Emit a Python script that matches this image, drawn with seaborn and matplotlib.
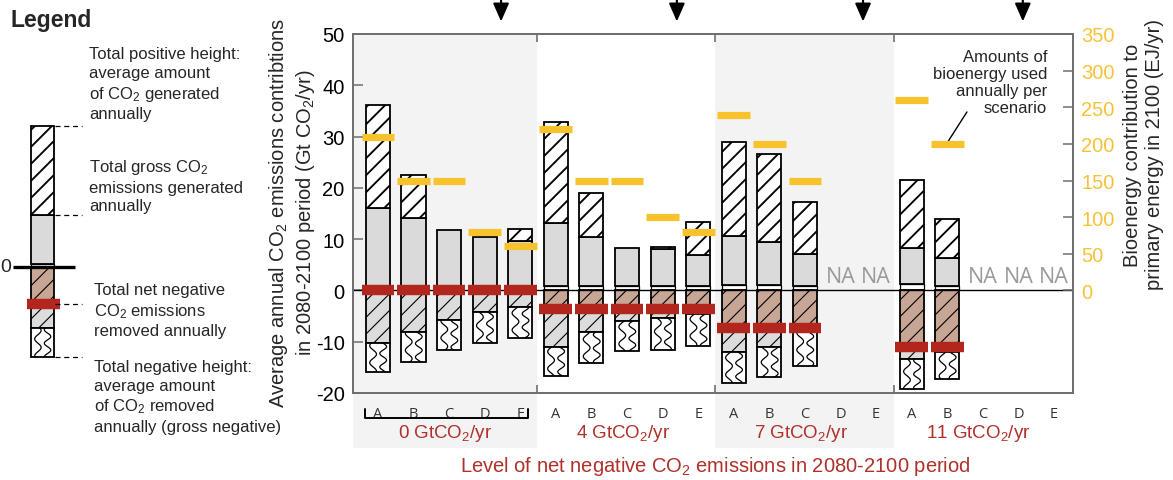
import numpy as np
import pandas as pd
import matplotlib
matplotlib.use("Agg")
import matplotlib.pyplot as plt
import seaborn as sns

# ---------------- data ----------------
levels = ["0", "4", "7", "11"]
scenarios = ["A", "B", "C", "D", "E"]
net_level = [0.0, -3.6, -7.3, -11.0]          # net negative emissions per level (Gt CO2/yr)

bar_level = [0, 0, 0, 0, 0, 1, 1, 1, 1, 1, 2, 2, 2, 3, 3]
bar_scen = [0, 1, 2, 3, 4, 0, 1, 2, 3, 4, 0, 1, 2, 0, 1]
total_pos = [36.2, 22.5, 11.8, 10.4, 12.0, 32.8, 19.0, 8.3, 8.4, 13.4, 28.9, 26.6, 17.2, 21.5, 13.9]
gross_pos = [16.0, 14.1, 11.8, 10.4, 9.6, 13.1, 10.5, 8.3, 8.1, 6.9, 10.6, 9.5, 7.1, 8.3, 6.3]
small_pos = [0, 0, 0, 0, 0, 0.8, 0.8, 0.8, 0.8, 0.8, 1.1, 1.1, 0.8, 1.3, 0.8]
hatched_neg = [-10.2, -8.1, -5.75, -4.25, -3.3, -11.1, -8.15, -5.9, -5.4, -4.6,
               -12.0, -10.95, -8.1, -13.35, -12.05]
total_neg = [-16.0, -14.0, -11.7, -10.3, -9.3, -16.6, -14.2, -11.85, -11.6, -10.8,
             -18.0, -16.9, -14.65, -19.2, -17.25]
bioenergy = [210, 150, 150, 80, 60, 220, 150, 150, 100, 80, 240, 200, 150, 260, 200]

# schematic legend bar values
leg_total_pos, leg_gross_pos, leg_small = 27.4, 10.1, 0.5
leg_net, leg_hatched, leg_total_neg = -7.2, -11.9, -17.6

left_ticks = list(range(-20, 51, 10))
right_ticks = list(range(0, 351, 50))
arrow_x = [3.46, 8.40, 13.63, 18.12]
group_bounds = [4.48, 9.48, 14.5]

# ---------------- style ----------------
sns.set_theme(style="white")
plt.rcParams["font.family"] = ["Liberation Sans", "DejaVu Sans"]
plt.rcParams["mathtext.fontset"] = "custom"
plt.rcParams["mathtext.rm"] = "Liberation Sans"
plt.rcParams["mathtext.it"] = "Liberation Sans:italic"
plt.rcParams["mathtext.bf"] = "Liberation Sans:bold"
plt.rcParams["mathtext.default"] = "regular"
plt.rcParams["hatch.linewidth"] = 0.8

GRAY = "#dadada"
BROWN = "#c7a696"
HGRAY = "#dcdcdc"
RED = "#b3261e"
YELLOW = "#f8c22c"
TXT_RED = "#b0302a"
SHADE = "#f3f3f3"
FRAME = "#6f6f6f"
BAR_W = 0.675

W, H = 1173, 481
XLIM = (-0.7, 19.53)
YLIM = (-20, 50)
fig = plt.figure(figsize=(W / 100, H / 100), dpi=100)
ax = fig.add_axes([353 / W, 1 - 394 / H, 720 / W, 359 / H])
SX = 720 / (XLIM[1] - XLIM[0])      # pixels per x unit
SY = 359 / (YLIM[1] - YLIM[0])      # pixels per y unit

df = pd.DataFrame({
    "slot": [5 * l + s for l, s in zip(bar_level, bar_scen)],
    "total_pos": total_pos, "gross_pos": gross_pos, "small_pos": small_pos,
    "net": [net_level[l] for l in bar_level],
    "hatched_neg": hatched_neg, "total_neg": total_neg, "bio": bioenergy,
}).sort_values("slot")
zeros = np.zeros(len(df))


def seg(bottoms, tops, face, hatch=None, elw=1.3, z=3):
    bottoms = np.asarray(bottoms, float)
    tops = np.asarray(tops, float)
    keep = (tops - bottoms) > 0.05
    d = pd.DataFrame({"slot": df["slot"].values[keep], "h": (tops - bottoms)[keep]})
    sns.barplot(data=d, x="slot", y="h", native_scale=True, width=BAR_W,
                errorbar=None, color=face, saturation=1, bottom=bottoms[keep],
                facecolor=face, edgecolor="black", linewidth=elw, hatch=hatch,
                zorder=z, ax=ax)
    return list(ax.containers[-1])


def diag(axis, patches, sx, sy, step=17.0, lw=1.35):
    """Thick 45-degree hatch lines, clipped to each bar."""
    for p in patches:
        x0, y0 = p.get_x() * sx, p.get_y() * sy
        x1, y1 = x0 + p.get_width() * sx, y0 + p.get_height() * sy
        c = y0 - x1 + 6
        while c < y1 - x0:
            xs = np.array([x0, x1])
            ys = xs + c
            ln, = axis.plot(xs / sx, ys / sy, color="black", lw=lw,
                            zorder=p.get_zorder() + 0.1, solid_capstyle="butt")
            ln.set_clip_path(p)
            c += step


def wavy(axis, patches, sy):
    for i, p in enumerate(patches):
        x0, y0 = p.get_x(), p.get_y()
        w, h = p.get_width(), p.get_height()
        yy = np.linspace(y0, y0 + h, 90)
        for j, (off, fr) in enumerate(((-0.2, 1.0), (0.22, 1.25))):
            ph = 1.7 * i + 2.4 * j
            k = 2 * np.pi / (17.0 / sy) * fr
            xx = x0 + w * (0.5 + off) + w * 0.14 * np.sin(yy * k + ph)
            ln, = axis.plot(xx, yy, color="black", lw=0.9, zorder=p.get_zorder() + 0.1)
            ln.set_clip_path(p)


# positive parts
seg(df["small_pos"], df["gross_pos"], GRAY)
seg(zeros, df["small_pos"], "white", hatch="..", elw=0.9)
pp = seg(df["gross_pos"], df["total_pos"], "white")
diag(ax, pp, SX, SY)
# negative parts
seg(df["net"], zeros, BROWN, hatch="//")
seg(df["hatched_neg"], df["net"], HGRAY, hatch="//")
wp = seg(df["total_neg"], df["hatched_neg"], "white")
wavy(ax, wp, SY)

ax.axhline(0, color="black", lw=1.0, zorder=4)
ax.hlines(df["net"], df["slot"] - 0.46, df["slot"] + 0.46, color=RED, lw=7.5,
          capstyle="butt", zorder=6)

# shading of alternate groups (extends under the labels)
for x0, x1 in [(XLIM[0], group_bounds[0]), (group_bounds[1], group_bounds[2])]:
    ax.axvspan(x0, x1, ymin=-0.153, ymax=1, color=SHADE, lw=0, zorder=0, clip_on=False)

ax.set_xlim(*XLIM)
ax.set_ylim(*YLIM)
ax.set_xlabel("")
ax.set_ylabel("")
ax.set_yticks(left_ticks)
ax.set_yticklabels([str(t) for t in left_ticks])
ax.set_xticks(range(20))
ax.set_xticklabels(scenarios * 4, fontfamily="Open Sans", fontsize=10.5, color="#333333")
ax.set_xticks(group_bounds, minor=True)
ax.tick_params(axis="x", which="major", length=0, pad=9)
ax.tick_params(axis="x", which="minor", direction="in", length=6, width=1.2,
               color=FRAME, top=True, bottom=True)
ax.tick_params(axis="y", direction="in", length=7, width=1.1, color=FRAME,
               labelsize=14.5, pad=6, labelcolor="black")
for s in ax.spines.values():
    s.set_color(FRAME)
    s.set_linewidth(1.3)

# NA labels for missing scenarios
present = set(zip(bar_level, bar_scen))
for l in range(len(levels)):
    for s in range(len(scenarios)):
        if (l, s) not in present:
            ax.text(5 * l + s, 1.6, "NA", ha="center", va="baseline", fontsize=15.5,
                    color="#9a9a9a", fontfamily="Open Sans", zorder=5)

# group labels / bracket / axis title
xt = ax.get_xaxis_transform()
for l, name in enumerate(levels):
    ax.text(5 * l + 1.88, -0.109, name + " GtCO$_2$/yr", transform=xt, ha="center",
            va="center", fontsize=13.5, color=TXT_RED)
ax.plot([-0.37, -0.37, 4.22, 4.22], [-0.045, -0.0696, -0.0696, -0.045], transform=xt,
        color="black", lw=1.4, clip_on=False)
ax.text(0.503, -0.2006, "Level of net negative CO$_2$ emissions in 2080-2100 period",
        transform=ax.transAxes, ha="center", va="center", fontsize=14.5, color=TXT_RED)

# arrows on top
for x in arrow_x:
    ax.annotate("", xy=(x, 1.035), xytext=(x, 1.0975), xycoords=xt, textcoords=xt,
                arrowprops=dict(arrowstyle="-|>,head_length=0.5,head_width=0.22",
                                color="black", lw=1.5, mutation_scale=22,
                                shrinkA=0, shrinkB=0))

# annotation for bioenergy
ax.text(18.8, 47.0, "Amounts of\nbioenergy used\nannually per\nscenario", ha="right",
        va="top", fontsize=12, linespacing=1.15, multialignment="right", zorder=7)
ax.plot([16.55, 15.96], [34.8, 28.4], color="black", lw=1.0, zorder=8)

# right axis: bioenergy
ax2 = ax.twinx()
ax2.set_ylim(-140, 350)
ax2.hlines(df["bio"], df["slot"] - 0.46, df["slot"] + 0.46, color=YELLOW, lw=5.2,
           capstyle="butt", zorder=6)
ax2.set_yticks(right_ticks)
ax2.set_yticklabels([str(t) for t in right_ticks])
ax2.tick_params(axis="y", direction="in", length=7, width=1.1, color=FRAME,
                labelsize=14.5, pad=6, labelcolor="#f5c23a")
for s in ax2.spines.values():
    s.set_color(FRAME)
    s.set_linewidth(1.3)

fig.text(292 / W, 1 - 213 / H,
         "Average annual CO$_2$ emissions contribtions\nin 2080-2100 period (Gt CO$_2$/yr)",
         rotation=90, ha="center", va="center", fontsize=14.5, multialignment="center")
fig.text(1143.5 / W, 1 - 155 / H,
         "Bioenergy contribution to\nprimary energy in 2100 (EJ/yr)",
         rotation=90, ha="center", va="center", fontsize=14.5, multialignment="center")

# ---------------- legend schematic ----------------
axl = fig.add_axes([0, 0, 317 / W, 1])
axl.set_xlim(0, 317)
axl.set_ylim((267.7 - 481) / SY, 267.7 / SY)
axl.axis("off")
LX, LW = 42.5, 23


def lbar(b, t, face, hatch=None, elw=1.3):
    cont = axl.bar([LX], [t - b], width=LW, bottom=[b], facecolor=face,
                   edgecolor="black", linewidth=elw, hatch=hatch, zorder=3)
    return list(cont)


lbar(leg_small, leg_gross_pos, GRAY)
lbar(0, leg_small, "white", elw=0.9)
diag(axl, lbar(leg_gross_pos, leg_total_pos, "white"), 1.0, SY)
lbar(leg_net, 0, BROWN, hatch="//")
lbar(leg_hatched, leg_net, HGRAY, hatch="//")
wavy(axl, lbar(leg_total_neg, leg_hatched, "white"), SY)
axl.plot([13, 75], [0, 0], color="black", lw=2.4, zorder=4, solid_capstyle="butt")
axl.plot([27, 60], [leg_net, leg_net], color=RED, lw=7.5, zorder=5, solid_capstyle="butt")
for yv in (leg_total_pos, leg_gross_pos, leg_net, leg_total_neg):
    axl.plot([55, 82], [yv, yv], color="black", lw=0.9, ls=(0, (4, 3)), zorder=6)
axl.text(11, 0, "0", ha="right", va="center", fontsize=14)

fig.text(10 / W, 1 - 27 / H, "Legend", fontsize=16.5, fontweight="bold", va="baseline")
leg_texts = [
    (89, 47, "Total positive height:\naverage amount\nof CO$_2$ generated\nannually"),
    (89, 158, "Total gross CO$_2$\nemissions generated\nannually"),
    (94, 283, "Total net negative\nCO$_2$ emissions\nremoved annually"),
    (94, 360, "Total negative height:\naverage amount\nof CO$_2$ removed\nannually (gross negative)"),
]
for x, y, t in leg_texts:
    fig.text(x / W, 1 - y / H, t, fontsize=12, va="top", ha="left", linespacing=1.3)

fig.savefig("out.png", dpi=100)
